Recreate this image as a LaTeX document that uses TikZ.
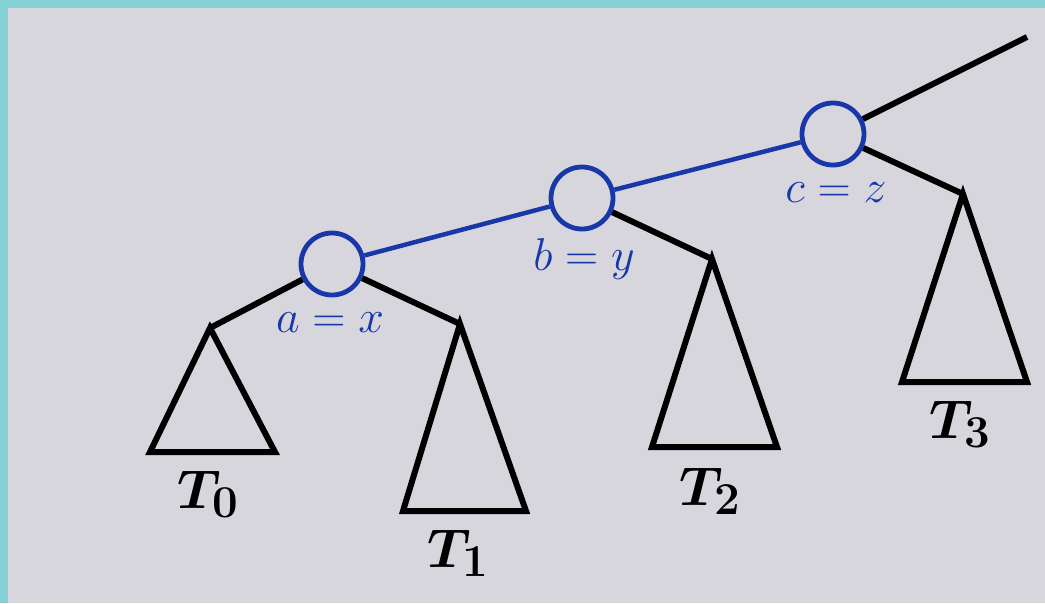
\documentclass[tikz,border=0pt]{standalone}
\definecolor{frame}{RGB}{132,210,214}
\definecolor{paper}{RGB}{216,214,221}
\definecolor{ink}{RGB}{24,56,170}
\newcommand{\vtext}[1]{\scalebox{1.85}{\Huge$#1$}}
\newcommand{\ttext}[1]{\scalebox{2.2}{\Huge\boldmath$#1$}}
\begin{document}
\begin{tikzpicture}[x=1pt,y=-1pt,
  vert/.style={circle,draw=ink,line width=4.8pt,minimum size=62pt,inner sep=0pt},
  path edge/.style={draw=ink,line width=4.5pt},
  tree edge/.style={draw=black,line width=6pt},
  subtree/.style={draw=black,line width=6pt,line join=miter},
  vlabel/.style={text=ink,anchor=base,inner sep=0pt},
  tlabel/.style={anchor=base,inner sep=0pt}]
\fill[frame] (0,0) rectangle (1045,603);
\fill[paper] (8,8) rectangle (1045,603);
\useasboundingbox (0,0) rectangle (1045,603);
% path nodes
\node[vert] (a) at (332,264) {};
\node[vert] (b) at (582,198) {};
\node[vert] (c) at (833,134) {};
\node[vlabel] (la) at (330,332) {\vtext{a = x}};
\node[vlabel] (lb) at (584,270) {\vtext{b = y}};
\node[vlabel] (lc) at (836,202) {\vtext{c = z}};
% apex points
\coordinate (t0) at (210,328);
\coordinate (t1) at (460,324);
\coordinate (t2) at (712,259);
\coordinate (t3) at (963,194);
\coordinate (up) at (1027,37);
% edges
\draw[path edge] (a) -- (b);
\draw[path edge] (b) -- (c);
\draw[tree edge] (c) -- (up);
\draw[tree edge] (a) -- (t0);
\draw[tree edge] (a) -- (t1);
\draw[tree edge] (b) -- (t2);
\draw[tree edge] (c) -- (t3);
% subtrees
\draw[subtree] (t0) -- (150,452) -- (275,452) -- cycle;
\draw[subtree] (t1) -- (403,511) -- (526,511) -- cycle;
\draw[subtree] (t2) -- (652,447) -- (777,447) -- cycle;
\draw[subtree] (t3) -- (902,382) -- (1027,382) -- cycle;
% subtree labels
\node[tlabel] (T0) at (208,508) {\ttext{T_0}};
\node[tlabel] (T1) at (458,567) {\ttext{T_1}};
\node[tlabel] (T2) at (710,505) {\ttext{T_2}};
\node[tlabel] (T3) at (960,438) {\ttext{T_3}};
\end{tikzpicture}
\end{document}
